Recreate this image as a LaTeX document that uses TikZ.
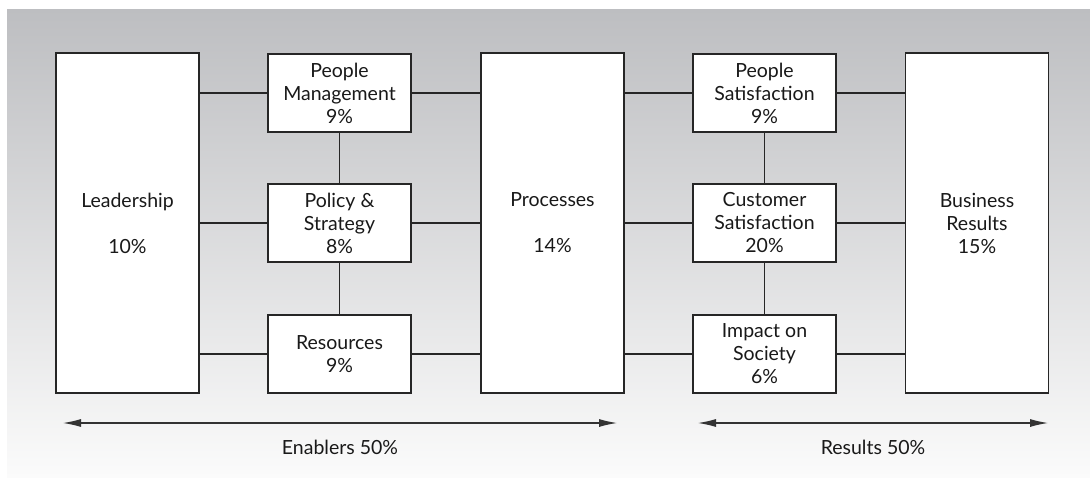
\documentclass[tikz,border=0pt]{standalone}
\usepackage{fontspec}
\setmainfont{Lato}
\usetikzlibrary{arrows.meta}

\begin{document}
\begin{tikzpicture}[x=1pt,y=-1pt,line width=1.2pt,
    crit/.style={draw=black!85,fill=white,align=center,minimum width=143pt,
      inner sep=0pt,font=\fontsize{19.5}{23}\selectfont,text=black!90},
    big/.style={crit,minimum height=340pt},
    small/.style={crit,minimum height=78pt},
    link/.style={draw=black!85},
    span/.style={draw=black!80,line width=1.1pt,{Latex[length=18pt,width=8pt]}-{Latex[length=18pt,width=8pt]}}]

      \useasboundingbox (0,0) rectangle (1090,477);
      \shade[top color={rgb,255:red,189;green,190;blue,193},bottom color={rgb,255:red,251;green,251;blue,251}]
        (7,9) rectangle (1090,477);

      \begin{scope}[every node/.style={}]
        \node[big]   (lead) at (127.5,223) {Leadership\\[23pt]10\%};
        \node[small] (pm)   at (339.5,93)  {People\\Management\\9\%};
        \node[small] (pol)  at (339.5,223) {Policy \&\\Strategy\\8\%};
        \node[small] (res)  at (339.5,354) {Resources\\9\%};
        \node[big]   (proc) at (552.5,223) {Processes\\[23pt]14\%};
        \node[small] (ps)   at (764.5,93)  {People\\Satisfaction\\9\%};
        \node[small] (cs)   at (764.5,223) {Customer\\Satisfaction\\20\%};
        \node[small] (is)   at (764.5,354) {Impact on\\Society\\6\%};
        \node[big]   (bus)  at (977,223)   {Business\\Results\\15\%};
      \end{scope}

      % horizontal links
      \foreach \a/\b in {pm/lead,pol/lead,res/lead,ps/proc,cs/proc,is/proc}
        \path[link] (\a.west) -- (\a.west -| \b.east);
      \foreach \a/\b in {pm/proc,pol/proc,res/proc,ps/bus,cs/bus,is/bus}
        \path[link] (\a.east) -- (\a.east -| \b.west);

      % vertical links
      \path[link] (pm) -- (pol);
      \path[link] (pol) -- (res);
      \path[link] (ps) -- (cs);
      \path[link] (cs) -- (is);

      % spans
      \coordinate (enl) at (63,423);
      \coordinate (enr) at (617,423);
      \coordinate (rel) at (698,423);
      \coordinate (rer) at (1048,423);
      \path[span] (enl) -- (enr);
      \path[span] (rel) -- (rer);
      \node[font=\fontsize{19.5}{23}\selectfont,text=black!90] (enab) at (340,447) {Enablers 50\%};
      \node[font=\fontsize{19.5}{23}\selectfont,text=black!90] (resu) at (873,447) {Results 50\%};

    \end{tikzpicture}
\end{document}
